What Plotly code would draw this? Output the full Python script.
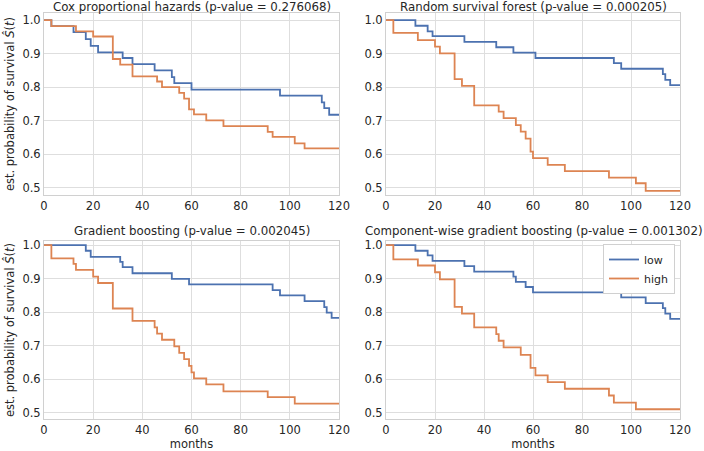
import plotly.graph_objects as go

# ---- data (months, estimated survival) ----
cox_low_t = [0, 3, 12, 17, 19, 22, 32, 36, 45, 52, 53, 60, 96, 113, 114, 116, 120]
cox_low_s = [1.0, 0.982, 0.964, 0.943, 0.923, 0.904, 0.887, 0.869, 0.850, 0.830, 0.812, 0.793, 0.775, 0.755, 0.738, 0.718, 0.718]
cox_high_t = [0, 3, 13, 20, 28, 31, 36, 46, 48, 55, 57, 59, 61, 66, 73, 91, 93, 102, 106, 120]
cox_high_s = [1.0, 0.982, 0.966, 0.951, 0.884, 0.867, 0.832, 0.817, 0.800, 0.783, 0.766, 0.734, 0.719, 0.701, 0.684, 0.667, 0.652, 0.633, 0.618, 0.618]

rsf_low_t = [0, 12, 17, 19, 32, 45, 52, 61, 93, 96, 113, 114, 116, 120]
rsf_low_s = [1.0, 0.983, 0.966, 0.952, 0.935, 0.919, 0.903, 0.887, 0.872, 0.855, 0.839, 0.822, 0.806, 0.806]
rsf_high_t = [0, 3, 13, 20, 22, 28, 31, 36, 46, 48, 53, 55, 57, 59, 60, 66, 73, 91, 102, 106, 120]
rsf_high_s = [1.0, 0.962, 0.940, 0.921, 0.901, 0.824, 0.804, 0.746, 0.727, 0.708, 0.687, 0.668, 0.647, 0.608, 0.589, 0.569, 0.550, 0.531, 0.514, 0.491, 0.491]

gb_low_t = [0, 17, 19, 31, 32, 36, 52, 59, 93, 96, 106, 114, 115, 117, 120]
gb_low_s = [1.0, 0.983, 0.965, 0.950, 0.934, 0.916, 0.899, 0.883, 0.866, 0.850, 0.833, 0.815, 0.799, 0.783, 0.783]
gb_high_t = [0, 3, 12, 13, 20, 22, 28, 36, 45, 46, 48, 53, 55, 57, 59, 60, 61, 66, 73, 91, 102, 120]
gb_high_s = [1.0, 0.960, 0.944, 0.926, 0.906, 0.887, 0.811, 0.774, 0.755, 0.736, 0.718, 0.698, 0.679, 0.660, 0.640, 0.621, 0.603, 0.585, 0.564, 0.547, 0.528, 0.528]

cw_low_t = [0, 12, 17, 19, 32, 36, 52, 53, 57, 60, 96, 106, 113, 114, 116, 120]
cw_low_s = [1.0, 0.983, 0.969, 0.953, 0.937, 0.921, 0.906, 0.890, 0.875, 0.859, 0.844, 0.827, 0.812, 0.796, 0.780, 0.780]
cw_high_t = [0, 3, 13, 20, 22, 28, 31, 36, 45, 46, 48, 55, 59, 61, 66, 73, 91, 93, 102, 120]
cw_high_s = [1.0, 0.957, 0.939, 0.919, 0.898, 0.816, 0.796, 0.755, 0.735, 0.715, 0.695, 0.673, 0.634, 0.612, 0.592, 0.572, 0.552, 0.531, 0.511, 0.511]

titles = [
    "Cox proportional hazards (p-value = 0.276068)",
    "Random survival forest (p-value = 0.000205)",
    "Gradient boosting (p-value = 0.002045)",
    "Component-wise gradient boosting (p-value = 0.001302)",
]
groups = ["low", "high"]
x_ticks = [0, 20, 40, 60, 80, 100, 120]
y_ticks = [0.5, 0.6, 0.7, 0.8, 0.9, 1.0]
y_tick_labels = ["0.5", "0.6", "0.7", "0.8", "0.9", "1.0"]

panels = [
    (cox_low_t, cox_low_s, cox_high_t, cox_high_s),
    (rsf_low_t, rsf_low_s, rsf_high_t, rsf_high_s),
    (gb_low_t, gb_low_s, gb_high_t, gb_high_s),
    (cw_low_t, cw_low_s, cw_high_t, cw_high_s),
]

# ---- layout geometry (pixels) ----
W, H = 704, 451
col_px = [(44, 339), (386, 680)]
row_px = [(13, 195), (241, 419)]
title_center_px = [7, 231]
row_yrange = [[0.479, 1.021], [0.482, 1.012]]
colors = ["#4C72B0", "#DD8452"]
FONT = "DejaVu Sans"
TXT = "#262626"

fig = go.Figure()
layout = dict(
    width=W, height=H,
    margin=dict(l=0, r=0, t=0, b=0, autoexpand=False),
    paper_bgcolor="white", plot_bgcolor="white",
    font=dict(family=FONT, size=11, color=TXT),
    showlegend=True,
    legend=dict(
        x=675 / W, xanchor="right", y=1 - 244 / H, yanchor="top",
        bgcolor="white", bordercolor="#d0d0d0", borderwidth=1,
        font=dict(size=11, family=FONT, color=TXT),
        itemwidth=30, tracegroupgap=0,
    ),
)
annotations = []

for i, (lt, ls, ht, hs) in enumerate(panels):
    r, c = divmod(i, 2)
    xa = "x" if i == 0 else f"x{i+1}"
    ya = "y" if i == 0 else f"y{i+1}"
    xkey = "xaxis" if i == 0 else f"xaxis{i+1}"
    ykey = "yaxis" if i == 0 else f"yaxis{i+1}"
    for g, (tt, ss) in enumerate([(lt, ls), (ht, hs)]):
        fig.add_trace(go.Scatter(
            x=tt, y=ss, mode="lines", line=dict(shape="hv", color=colors[g], width=1.8),
            name=groups[g], showlegend=(i == 3), xaxis=xa, yaxis=ya,
        ))
    x0, x1 = col_px[c]
    y0, y1 = row_px[r]
    layout[xkey] = dict(
        domain=[x0 / W, x1 / W], range=[0, 120], anchor=ya, automargin=False,
        tickvals=x_ticks, showgrid=True, gridcolor="#dedede", gridwidth=1,
        showline=True, linecolor="#d0d0d0", linewidth=1, mirror=True,
        zeroline=False, ticks="", tickfont=dict(size=11.5, color=TXT),
        title=dict(text="months" if r == 1 else "", standoff=1, font=dict(size=11.5, color=TXT)),
    )
    layout[ykey] = dict(
        domain=[1 - y1 / H, 1 - y0 / H], range=row_yrange[r], anchor=xa, automargin=False,
        tickvals=y_ticks, ticktext=y_tick_labels, showgrid=True, gridcolor="#dedede", gridwidth=1,
        showline=True, linecolor="#d0d0d0", linewidth=1, mirror=True,
        zeroline=False, ticks="", tickfont=dict(size=11.5, color=TXT),
        title=dict(text="est. probability of survival <i>Ŝ</i>(<i>t</i>)" if c == 0 else "",
                   standoff=5, font=dict(size=11.5, color=TXT)),
    )
    annotations.append(dict(
        text=titles[i], xref="paper", yref="paper",
        x=(x0 + x1) / 2 / W, y=1 - title_center_px[r] / H, xanchor="center", yanchor="middle",
        showarrow=False, font=dict(size=11.8, family=FONT, color=TXT),
    ))

layout["annotations"] = annotations
fig.update_layout(**layout)
fig.write_html(
    "out.html",
    config={"displayModeBar": False},
    post_script="document.body.style.margin='0';document.body.style.padding='0';document.body.style.overflow='hidden';",
)
